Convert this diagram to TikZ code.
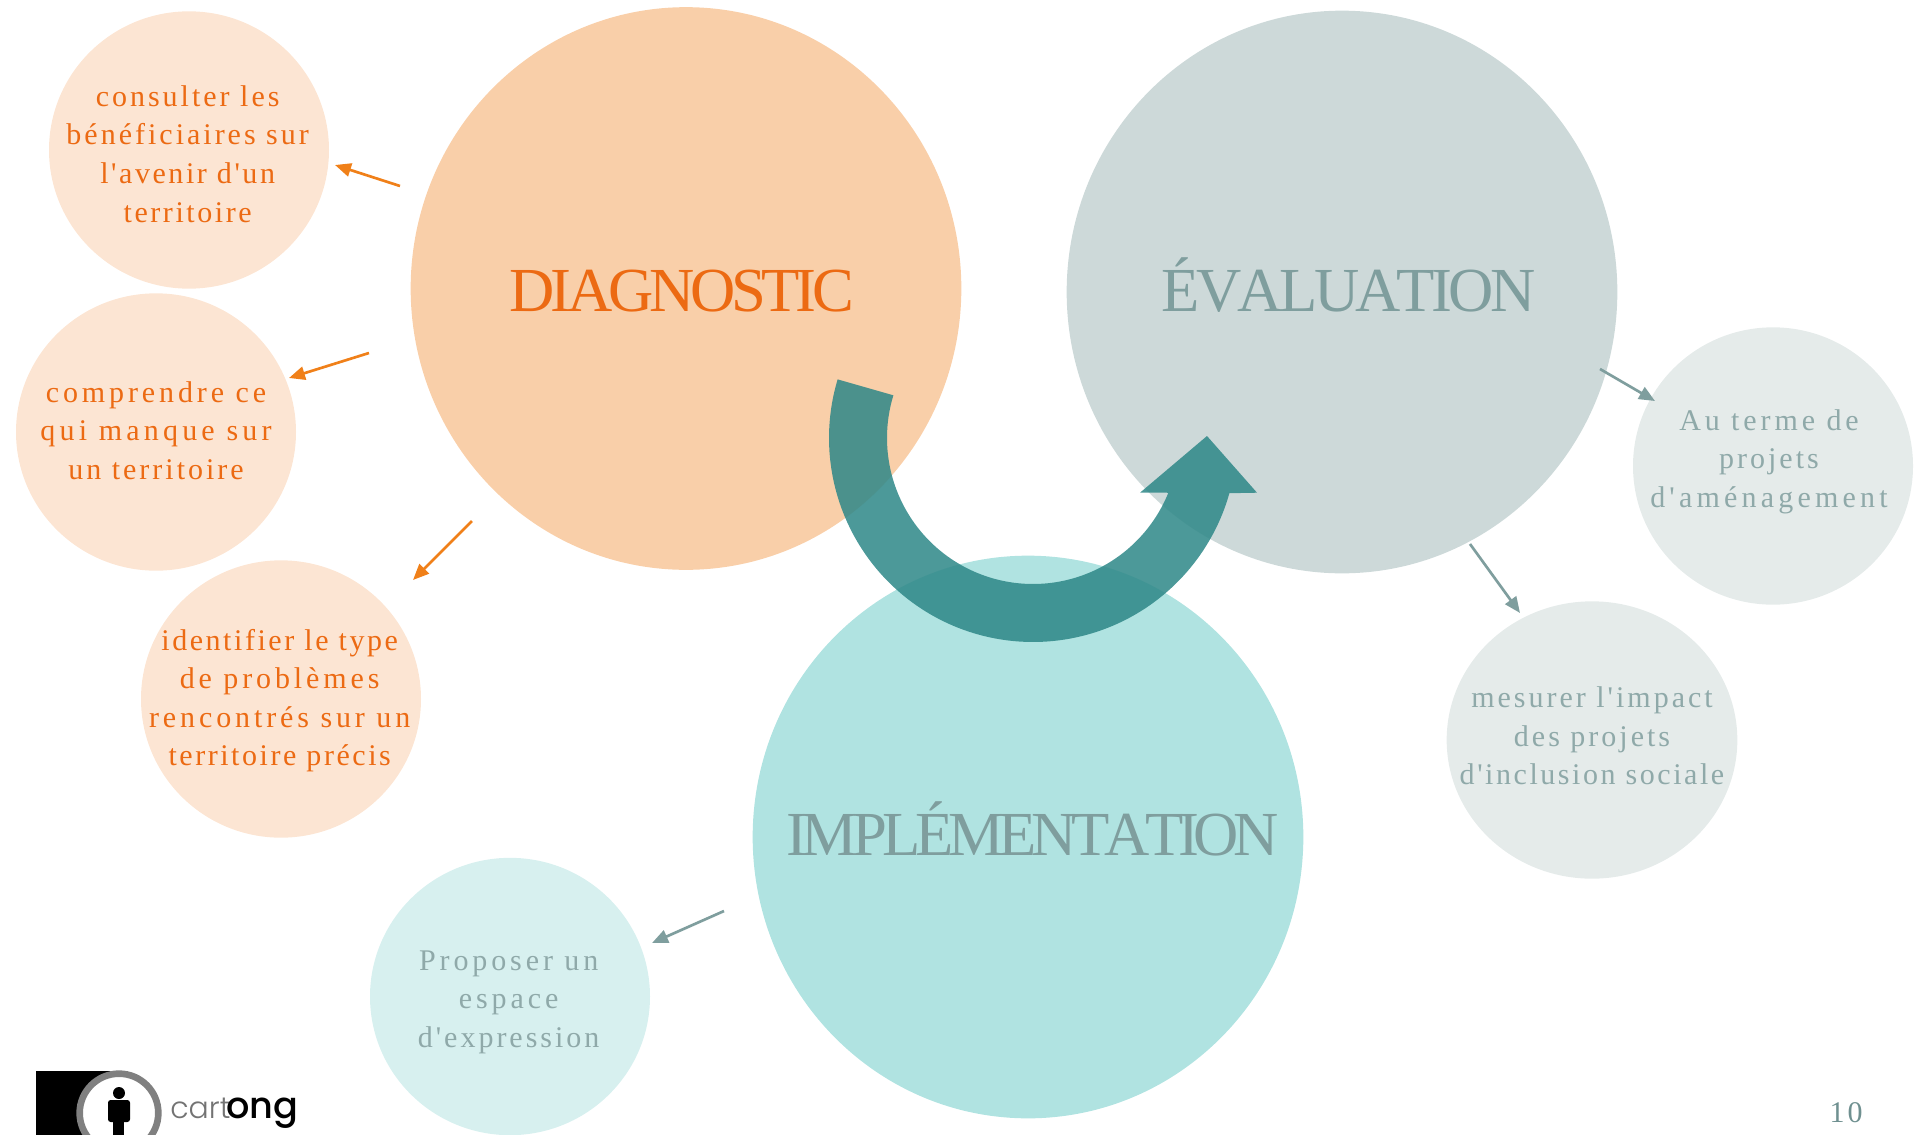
\documentclass[tikz,border=0pt]{standalone}
\usepackage{fontspec}
\usetikzlibrary{arrows.meta,shapes.geometric}
\newfontfamily\smallf[LetterSpace=10,Ligatures=NoCommon,Kerning=Off]{Liberation Serif}
\newfontfamily\nsp[LetterSpace=8.5,Ligatures=NoCommon,Kerning=Off]{Liberation Serif}
\newfontfamily\wsp[LetterSpace=13,Ligatures=NoCommon,Kerning=Off]{Liberation Serif}
\newfontfamily\wwsp[LetterSpace=14,Ligatures=NoCommon,Kerning=Off]{Liberation Serif}
\newfontfamily\bigf[LetterSpace=-6.8,Ligatures=NoCommon,Kerning=Off]{Liberation Serif}
\newfontfamily\bige[LetterSpace=-6,Ligatures=NoCommon,Kerning=Off]{Liberation Serif}
\newfontfamily\bigi[LetterSpace=-8.3,Ligatures=NoCommon,Kerning=Off]{Liberation Serif}
\newfontfamily\logof{Poppins Light}
\newfontfamily\logob{Poppins Medium}
\definecolor{obig}{HTML}{F9CFA9}
\definecolor{osmall}{HTML}{FCE5D3}
\definecolor{otext}{HTML}{EC6A13}
\definecolor{oarrow}{HTML}{F08019}
\definecolor{gbig}{HTML}{CDD9D9}
\definecolor{gsmall}{HTML}{E5EBEA}
\definecolor{gtext}{HTML}{8FA9A9}
\definecolor{gbtext}{HTML}{7F9E9E}
\definecolor{gnum}{HTML}{6F9090}
\definecolor{tbig}{HTML}{B0E3E1}
\definecolor{tsmall}{HTML}{D7F0EF}
\definecolor{arc}{HTML}{2D8787}
\newcommand\placed[3]{\makebox[0pt][c]{\kern#1pt\raisebox{#2pt}[0pt][0pt]{\begin{tabular}{@{}c@{}}#3\end{tabular}}\kern-#1pt}}
\tikzset{
  x=0.75pt,y=-0.75pt,
  bub/.style={ellipse,inner sep=0pt,minimum width=210pt,minimum height=208pt,align=center},
  orangebub/.style={bub,fill=osmall,text=otext,font=\smallf\fontsize{22.5}{28.9}\selectfont},
  greybub/.style={bub,fill=gsmall,text=gtext,font=\smallf\fontsize{22.5}{28.9}\selectfont},
  tealbub/.style={bub,fill=tsmall,text=gtext,font=\smallf\fontsize{22.5}{28.9}\selectfont},
  bigbub/.style={ellipse,inner sep=0pt,minimum width=413pt,minimum height=422pt,font=\fontsize{47}{56}\selectfont},
  oline/.style={draw=oarrow,line width=2pt,-{Triangle[length=12pt,width=10pt]}},
  gline/.style={draw=gbtext,line width=2pt,-{Triangle[length=12pt,width=10pt]}},
}
\begin{document}
\begin{tikzpicture}
\useasboundingbox (0,0) rectangle (1917,1135);
\clip (0,0) rectangle (1917,1135);
% big circles
\node[bigbub,fill=obig,text=otext] (diag) at (686,288.5) {\placed{-3}{-12}{\bigf DIAGNOSTIC}};
\node[bigbub,fill=gbig,text=gbtext] (eval) at (1342,292) {\placed{5}{-9}{\bige ÉVALUATION}};
\node[bigbub,fill=tbig,text=gbtext] (impl) at (1028,837) {\placed{3.5}{-8}{\bigi IMPLÉMENTATION}};
% small circles
\node[orangebub] (c1) at (189,150) {\placed{-1}{-10.1}{consulter les\\bénéficiaires sur\\\nsp l'avenir d'un\\\nsp territoire}};
\node[orangebub] (c2) at (156,432) {\placed{0}{-6}{\wsp comprendre ce\\\wwsp qui manque sur\\un territoire}};
\node[orangebub] (c3) at (281,699) {\placed{-1}{-6}{\nsp identifier le type\\\wsp de problèmes\\\wsp rencontrés sur un\\\nsp territoire précis}};
\node[tealbub] (c4) at (510,996.5) {\placed{-1}{-8.75}{\wsp Proposer un\\\wsp espace\\d'expression}};
\node[greybub] (c5) at (1773,466) {\placed{-3}{-1.4}{\wsp Au terme de\\projets\\\wwsp d'aménagement}};
\node[greybub,minimum width=218pt,minimum height=208pt] (c6) at (1592,740) {\placed{0}{-4.2}{mesurer l'impact\\des projets\\\nsp d'inclusion sociale}};
% connector ends
\coordinate (a1s) at (400,186); \coordinate (a1e) at (335,165);
\coordinate (a2s) at (369,353); \coordinate (a2e) at (289,378);
\coordinate (a3s) at (472,521); \coordinate (a3e) at (413,580);
\coordinate (a4s) at (724,911); \coordinate (a4e) at (652,943);
\coordinate (a5s) at (1600,369); \coordinate (a5e) at (1655,401);
\coordinate (a6s) at (1470,544); \coordinate (a6e) at (1520,613);
\draw[oline] (a1s) -- (a1e);
\draw[oline] (a2s) -- (a2e);
\draw[oline] (a3s) -- (a3e);
\draw[gline] (a4s) -- (a4e);
\draw[gline] (a5s) -- (a5e);
\draw[gline] (a6s) -- (a6e);
% big curved arrow
\fill[arc,opacity=0.85]
  plot[smooth,domain=196.7:15.7,samples=80] ({1033+204*cos(\x)},{438+204*sin(\x)})
  -- (1257,492.7) -- (1207,436) -- (1140,492.7) -- (1167,492.7)
  -- plot[smooth,domain=22.2:197,samples=80] ({1033+146*cos(\x)},{438+146*sin(\x)})
  -- cycle;
% page number
\node[font=\smallf\fontsize{22.5}{28}\selectfont,text=gnum,inner sep=0pt] (pagenum) at (1846,1113) {10};
% logo
\fill[black] (36,1071) rectangle (119,1135);
\node[circle,fill=white,draw=black!50,line width=5pt,minimum size=59pt,inner sep=0pt] (ring) at (119,1113) {};
\node[circle,fill=black,minimum size=9pt,inner sep=0pt] (head) at (119,1093) {};
\fill[black,rounded corners=2pt] (108,1100) rectangle (130,1122);
\fill[black] (113,1115) rectangle (124,1135);
\node[anchor=base west,inner sep=0pt,font=\logof\fontsize{22.5}{23}\selectfont,text=black!55] (cart) at (170,1118) {cart};
\node[anchor=base west,inner sep=0pt,font=\logob\fontsize{27.5}{28}\selectfont,text=black] (ong) at (226,1118) {ong};
\end{tikzpicture}
\end{document}
